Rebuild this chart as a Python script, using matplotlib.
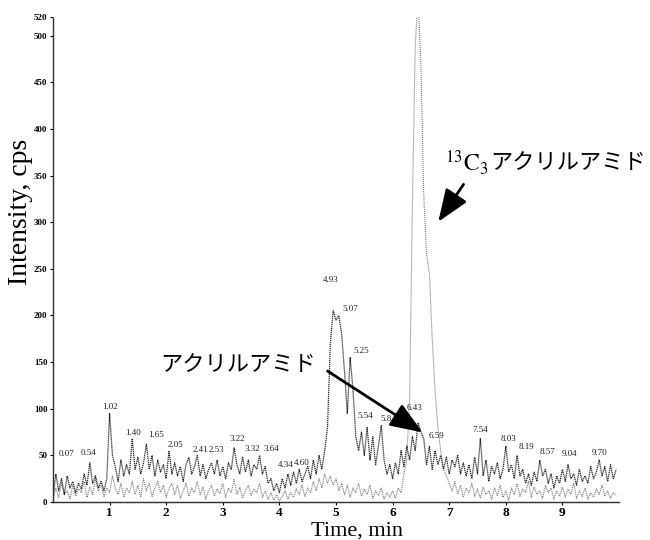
import numpy as np
import matplotlib
matplotlib.use("Agg")
import matplotlib.pyplot as plt

plt.rcParams['font.family'] = ['Liberation Serif', 'Noto Sans CJK JP']
plt.rcParams['mathtext.fontset'] = 'stix'

# sampling grid, min (one point every 0.05 min)
time = np.arange(200) * 0.05

# acrylamide trace (darker)
acrylamide = [
    5, 30, 12, 25, 8, 28, 15, 22, 10, 20, 14, 30, 18, 42, 20, 28, 15, 22, 12, 25,
    95, 50, 38, 22, 45, 28, 40, 30, 68, 35, 48, 30, 42, 62, 35, 50, 28, 45, 32, 40,
    25, 55, 30, 42, 28, 38, 22, 40, 48, 30, 38, 50, 28, 40, 25, 35, 42, 30, 45, 28,
    38, 25, 42, 35, 58, 40, 30, 48, 32, 45, 28, 40, 35, 50, 30, 38, 20, 25, 12, 20,
    10, 25, 15, 30, 18, 32, 20, 35, 22, 30, 38, 25, 45, 30, 50, 35, 55, 80, 170, 205,
    195, 200, 180, 140, 95, 155, 120, 70, 55, 75, 50, 80, 45, 70, 40, 60, 82, 45, 30, 40,
    25, 42, 30, 55, 38, 60, 45, 70, 55, 85, 75, 68, 40, 60, 35, 55, 40, 50, 35, 48,
    30, 45, 38, 50, 30, 42, 28, 40, 25, 48, 30, 68, 28, 45, 22, 38, 30, 42, 25, 35,
    60, 32, 40, 25, 50, 28, 35, 20, 30, 18, 32, 22, 45, 28, 35, 20, 30, 15, 28, 20,
    35, 22, 40, 25, 30, 18, 35, 22, 28, 20, 38, 25, 32, 45, 28, 38, 22, 40, 25, 35,
]

# 13C3 acrylamide trace (lighter)
c13_acrylamide = [
    2, 15, 5, 20, 8, 12, 3, 18, 6, 14, 10, 22, 5, 16, 8, 25, 12, 18, 6, 15,
    10, 28, 15, 8, 20, 5, 15, 10, 22, 8, 18, 5, 25, 12, 20, 6, 15, 22, 10, 18,
    5, 14, 20, 8, 18, 4, 12, 20, 6, 15, 10, 22, 8, 16, 3, 12, 18, 6, 14, 9,
    20, 5, 15, 10, 24, 8, 16, 4, 12, 18, 7, 14, 10, 20, 5, 12, 3, 10, 2, 8,
    1, 6, 12, 3, 10, 5, 14, 8, 18, 6, 15, 10, 22, 12, 25, 15, 30, 20, 28, 18,
    25, 12, 20, 8, 18, 5, 15, 10, 20, 6, 14, 8, 18, 4, 12, 7, 15, 3, 10, 5,
    12, 4, 15, 10, 30, 45, 110, 320, 490, 540, 470, 330, 265, 245, 175, 120, 80, 55, 35, 28,
    20, 12, 22, 8, 18, 5, 15, 10, 20, 6, 14, 4, 16, 8, 12, 3, 15, 7, 18, 5,
    12, 2, 15, 8, 20, 6, 14, 10, 22, 5, 16, 8, 12, 4, 18, 10, 15, 3, 12, 6,
    16, 5, 14, 8, 20, 4, 12, 6, 15, 3, 10, 5, 14, 8, 18, 6, 12, 4, 10, 7,
]

# peak labels: text, time, intensity
peak_text = ["0.07", "0.54", "1.02", "1.40", "1.65", "2.05", "2.41", "2.53",
             "3.22", "3.32", "3.64", "4.34", "4.60", "4.93", "5.07", "5.25",
             "5.54", "5.8", "6.43", "6.59", "7.54", "8.03", "8.19", "8.57",
             "9.04", "9.70"]
peak_t = [0.23, 0.62, 1.01, 1.41, 1.82, 2.17, 2.60, 2.88,
          3.25, 3.52, 3.86, 4.12, 4.40, 4.91, 5.25, 5.44,
          5.51, 5.88, 6.38, 6.78, 7.54, 8.04, 8.37, 8.73,
          9.13, 9.66]
peak_y = [47, 48, 98, 70, 68, 57, 52, 51,
          63, 53, 53, 35, 37, 234, 203, 158,
          88, 85, 96, 66, 73, 63, 55, 49,
          47, 48]

fig = plt.figure(figsize=(6.5, 5.4), dpi=100)
ax = fig.add_axes([53 / 650, 38 / 540, 566 / 650, 485 / 540])

ax.plot(time, c13_acrylamide, color='#808080', lw=0.8, ls=(0, (1, 0.8)))
ax.plot(time, acrylamide, color='#2a2a2a', lw=0.9, ls=(0, (1, 0.6)))

for s, t, v in zip(peak_text, peak_t, peak_y):
    ax.text(t, v, s, fontsize=6.5, ha='center', va='bottom', color='#222222')

ax.set_xlim(0, 10)
ax.set_ylim(0, 520)
ax.set_xticks(range(1, 10))
ax.set_yticks([0, 50, 100, 150, 200, 250, 300, 350, 400, 450, 500, 520])
ax.tick_params(axis='x', labelsize=9.5, length=2, pad=1.5)
ax.tick_params(axis='y', labelsize=6.5, length=2, pad=2)
for lab in ax.get_xticklabels() + ax.get_yticklabels():
    lab.set_fontweight('bold')

for side in ['top', 'right']:
    ax.spines[side].set_visible(False)
for side in ['left', 'bottom']:
    ax.spines[side].set_linestyle((0, (1, 0.8)))
    ax.spines[side].set_color('#333333')
    ax.spines[side].set_linewidth(1.0)

fig.text(21 / 650, 1 - 212 / 540, 'Intensity, cps', rotation=90,
         ha='center', va='center', fontsize=20)
fig.text(357 / 650, 1 - 531 / 540, 'Time, min', ha='center', va='center',
         fontsize=16)

# annotations
ax.text(6.93, 364, r'$^{13}\mathrm{C}_3$', fontsize=17, ha='left', va='center')
ax.text(7.72, 364, 'アクリルアミド', fontsize=16, ha='left', va='center',
        family=['Noto Sans CJK JP'])
ax.annotate('', xy=(6.78, 298), xytext=(7.28, 343),
            arrowprops=dict(arrowstyle='-|>,head_length=0.9,head_width=0.35',
                            color='black', lw=2, mutation_scale=22))

ax.text(1.89, 147, 'アクリルアミド', fontsize=16, ha='left', va='center',
        family=['Noto Sans CJK JP'])
ax.annotate('', xy=(6.57, 73), xytext=(4.81, 142),
            arrowprops=dict(arrowstyle='-|>,head_length=0.9,head_width=0.35',
                            color='black', lw=2, mutation_scale=22))

fig.savefig('out.png', dpi=100)
